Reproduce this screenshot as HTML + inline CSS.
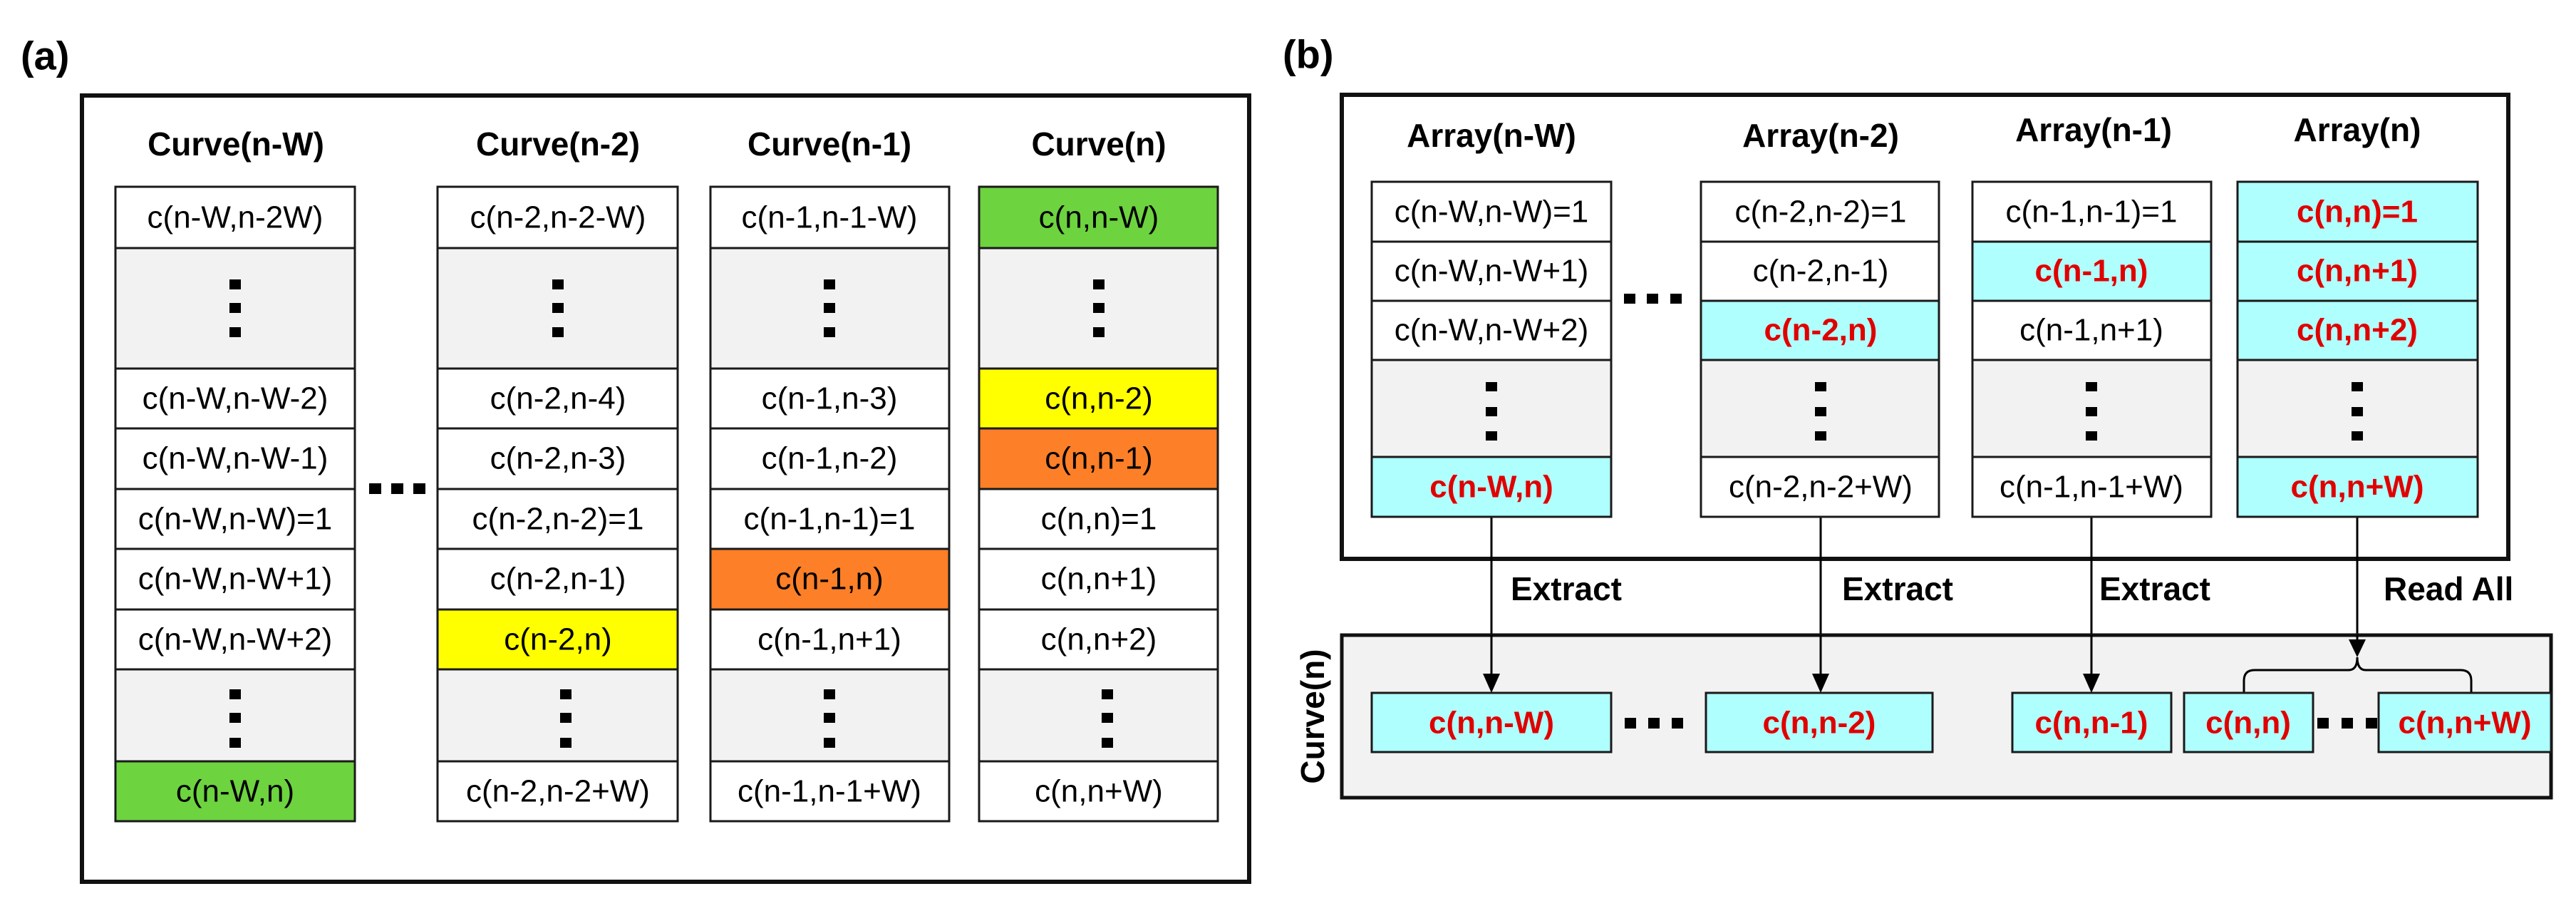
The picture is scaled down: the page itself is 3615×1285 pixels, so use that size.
<!DOCTYPE html>
<html><head><meta charset="utf-8"><style>
html,body{margin:0;padding:0;background:#fff;}
svg{display:block;}
text{font-family:"Liberation Sans",sans-serif;}
.c{font-size:44px;fill:#000;text-anchor:middle;dominant-baseline:central;}
.r{font-size:44px;fill:#e00000;font-weight:bold;text-anchor:middle;dominant-baseline:central;}
.h{font-size:46px;font-weight:bold;fill:#000;text-anchor:middle;dominant-baseline:central;}
.cell{stroke:#1a1a1a;stroke-width:3;}
</style></head><body>
<svg width="3615" height="1285" viewBox="0 0 3615 1285" xmlns="http://www.w3.org/2000/svg">
<defs>
<marker id="ah" viewBox="0 0 10 10" refX="10" refY="5" markerWidth="8" markerHeight="8" markerUnits="userSpaceOnUse" orient="auto">
</marker>
</defs>
<!-- (a) -->
<text x="29" y="78" style="font-size:56px;font-weight:bold;dominant-baseline:central">(a)</text>
<rect x="115" y="134" width="1638" height="1103" fill="none" stroke="#111" stroke-width="6"/>
<text class="h" x="331" y="202">Curve(n-W)</text>
<text class="h" x="783" y="202">Curve(n-2)</text>
<text class="h" x="1164" y="202">Curve(n-1)</text>
<text class="h" x="1542" y="202">Curve(n)</text>

<g id="acol">
</g>
<!-- col1 -->
<g>
<rect class="cell" x="162" y="262" width="336" height="86" fill="#fff"/>
<rect class="cell" x="162" y="348" width="336" height="169" fill="#f2f2f2"/>
<rect class="cell" x="162" y="517" width="336" height="84" fill="#fff"/>
<rect class="cell" x="162" y="601" width="336" height="85" fill="#fff"/>
<rect class="cell" x="162" y="686" width="336" height="84" fill="#fff"/>
<rect class="cell" x="162" y="770" width="336" height="85" fill="#fff"/>
<rect class="cell" x="162" y="855" width="336" height="84" fill="#fff"/>
<rect class="cell" x="162" y="939" width="336" height="129" fill="#f2f2f2"/>
<rect class="cell" x="162" y="1068" width="336" height="84" fill="#6dd33f"/>
<text class="c" x="330" y="305">c(n-W,n-2W)</text>
<rect x="322" y="392" width="16" height="14"/><rect x="322" y="425" width="16" height="14"/><rect x="322" y="459" width="16" height="14"/>
<text class="c" x="330" y="559">c(n-W,n-W-2)</text>
<text class="c" x="330" y="643">c(n-W,n-W-1)</text>
<text class="c" x="330" y="728">c(n-W,n-W)=1</text>
<text class="c" x="330" y="812">c(n-W,n-W+1)</text>
<text class="c" x="330" y="897">c(n-W,n-W+2)</text>
<rect x="322" y="967" width="16" height="14"/><rect x="322" y="1000" width="16" height="14"/><rect x="322" y="1035" width="16" height="14"/>
<text class="c" x="330" y="1110">c(n-W,n)</text>
</g>
<!-- ellipsis a -->
<rect x="518" y="678" width="17" height="15"/><rect x="549" y="678" width="17" height="15"/><rect x="580" y="678" width="17" height="15"/>
<!-- col2 -->
<g>
<rect class="cell" x="614" y="262" width="337" height="86" fill="#fff"/>
<rect class="cell" x="614" y="348" width="337" height="169" fill="#f2f2f2"/>
<rect class="cell" x="614" y="517" width="337" height="84" fill="#fff"/>
<rect class="cell" x="614" y="601" width="337" height="85" fill="#fff"/>
<rect class="cell" x="614" y="686" width="337" height="84" fill="#fff"/>
<rect class="cell" x="614" y="770" width="337" height="85" fill="#fff"/>
<rect class="cell" x="614" y="855" width="337" height="84" fill="#ffff00"/>
<rect class="cell" x="614" y="939" width="337" height="129" fill="#f2f2f2"/>
<rect class="cell" x="614" y="1068" width="337" height="84" fill="#fff"/>
<text class="c" x="783" y="305">c(n-2,n-2-W)</text>
<rect x="775" y="392" width="16" height="14"/><rect x="775" y="425" width="16" height="14"/><rect x="775" y="459" width="16" height="14"/>
<text class="c" x="783" y="559">c(n-2,n-4)</text>
<text class="c" x="783" y="643">c(n-2,n-3)</text>
<text class="c" x="783" y="728">c(n-2,n-2)=1</text>
<text class="c" x="783" y="812">c(n-2,n-1)</text>
<text class="c" x="783" y="897">c(n-2,n)</text>
<rect x="786" y="967" width="16" height="14"/><rect x="786" y="1000" width="16" height="14"/><rect x="786" y="1035" width="16" height="14"/>
<text class="c" x="783" y="1110">c(n-2,n-2+W)</text>
</g>
<!-- col3 -->
<g>
<rect class="cell" x="997" y="262" width="335" height="86" fill="#fff"/>
<rect class="cell" x="997" y="348" width="335" height="169" fill="#f2f2f2"/>
<rect class="cell" x="997" y="517" width="335" height="84" fill="#fff"/>
<rect class="cell" x="997" y="601" width="335" height="85" fill="#fff"/>
<rect class="cell" x="997" y="686" width="335" height="84" fill="#fff"/>
<rect class="cell" x="997" y="770" width="335" height="85" fill="#fd7f27"/>
<rect class="cell" x="997" y="855" width="335" height="84" fill="#fff"/>
<rect class="cell" x="997" y="939" width="335" height="129" fill="#f2f2f2"/>
<rect class="cell" x="997" y="1068" width="335" height="84" fill="#fff"/>
<text class="c" x="1164" y="305">c(n-1,n-1-W)</text>
<rect x="1156" y="392" width="16" height="14"/><rect x="1156" y="425" width="16" height="14"/><rect x="1156" y="459" width="16" height="14"/>
<text class="c" x="1164" y="559">c(n-1,n-3)</text>
<text class="c" x="1164" y="643">c(n-1,n-2)</text>
<text class="c" x="1164" y="728">c(n-1,n-1)=1</text>
<text class="c" x="1164" y="812">c(n-1,n)</text>
<text class="c" x="1164" y="897">c(n-1,n+1)</text>
<rect x="1156" y="967" width="16" height="14"/><rect x="1156" y="1000" width="16" height="14"/><rect x="1156" y="1035" width="16" height="14"/>
<text class="c" x="1164" y="1110">c(n-1,n-1+W)</text>
</g>
<!-- col4 -->
<g>
<rect class="cell" x="1374" y="262" width="335" height="86" fill="#6dd33f"/>
<rect class="cell" x="1374" y="348" width="335" height="169" fill="#f2f2f2"/>
<rect class="cell" x="1374" y="517" width="335" height="84" fill="#ffff00"/>
<rect class="cell" x="1374" y="601" width="335" height="85" fill="#fd7f27"/>
<rect class="cell" x="1374" y="686" width="335" height="84" fill="#fff"/>
<rect class="cell" x="1374" y="770" width="335" height="85" fill="#fff"/>
<rect class="cell" x="1374" y="855" width="335" height="84" fill="#fff"/>
<rect class="cell" x="1374" y="939" width="335" height="129" fill="#f2f2f2"/>
<rect class="cell" x="1374" y="1068" width="335" height="84" fill="#fff"/>
<text class="c" x="1542" y="305">c(n,n-W)</text>
<rect x="1534" y="392" width="16" height="14"/><rect x="1534" y="425" width="16" height="14"/><rect x="1534" y="459" width="16" height="14"/>
<text class="c" x="1542" y="559">c(n,n-2)</text>
<text class="c" x="1542" y="643">c(n,n-1)</text>
<text class="c" x="1542" y="728">c(n,n)=1</text>
<text class="c" x="1542" y="812">c(n,n+1)</text>
<text class="c" x="1542" y="897">c(n,n+2)</text>
<rect x="1546" y="967" width="16" height="14"/><rect x="1546" y="1000" width="16" height="14"/><rect x="1546" y="1035" width="16" height="14"/>
<text class="c" x="1542" y="1110">c(n,n+W)</text>
</g>

<!-- (b) -->
<text x="1800" y="76" style="font-size:56px;font-weight:bold;dominant-baseline:central">(b)</text>
<rect x="1883" y="133" width="1637" height="651" fill="none" stroke="#111" stroke-width="6"/>
<text class="h" x="2093" y="190">Array(n-W)</text>
<text class="h" x="2555" y="190">Array(n-2)</text>
<text class="h" x="2938" y="182">Array(n-1)</text>
<text class="h" x="3308" y="182">Array(n)</text>

<!-- arrows -->
<g stroke="#000" stroke-width="3">
<line x1="2093" y1="725" x2="2093" y2="950"/>
<line x1="2555" y1="725" x2="2555" y2="950"/>
<line x1="2935" y1="725" x2="2935" y2="950"/>
<line x1="3308" y1="725" x2="3308" y2="900"/>
</g>

<!-- lower gray box -->
<rect x="1883" y="891" width="1697" height="228" fill="#f2f2f2" stroke="#111" stroke-width="5"/>
<g stroke="#000" stroke-width="3">
<line x1="2093" y1="891" x2="2093" y2="950"/>
<line x1="2555" y1="891" x2="2555" y2="950"/>
<line x1="2935" y1="891" x2="2935" y2="950"/>
<line x1="3308" y1="891" x2="3308" y2="900"/>
</g>
<g fill="#000">
<polygon points="2081,945 2105,945 2093,972"/>
<polygon points="2543,945 2567,945 2555,972"/>
<polygon points="2923,945 2947,945 2935,972"/>
<polygon points="3296,897 3320,897 3308,922"/>
</g>
<path d="M3149,972 V955 Q3149,940 3164,940 H3296 Q3308,940 3308,922 Q3308,940 3320,940 H3453 Q3468,940 3468,955 V972" fill="none" stroke="#000" stroke-width="3"/>

<text x="2120" y="826" style="font-size:46px;font-weight:bold;dominant-baseline:central">Extract</text>
<text x="2585" y="826" style="font-size:46px;font-weight:bold;dominant-baseline:central">Extract</text>
<text x="2946" y="826" style="font-size:46px;font-weight:bold;dominant-baseline:central">Extract</text>
<text x="3345" y="826" style="font-size:46px;font-weight:bold;dominant-baseline:central">Read All</text>
<text transform="translate(1842,1005) rotate(-90)" style="font-size:46px;font-weight:bold;text-anchor:middle;dominant-baseline:central">Curve(n)</text>

<!-- b col1 -->
<g>
<rect class="cell" x="1925" y="255" width="336" height="84" fill="#fff"/>
<rect class="cell" x="1925" y="339" width="336" height="83" fill="#fff"/>
<rect class="cell" x="1925" y="422" width="336" height="83" fill="#fff"/>
<rect class="cell" x="1925" y="505" width="336" height="136" fill="#f2f2f2"/>
<rect class="cell" x="1925" y="641" width="336" height="84" fill="#b0ffff"/>
<text class="c" x="2093" y="297">c(n-W,n-W)=1</text>
<text class="c" x="2093" y="380">c(n-W,n-W+1)</text>
<text class="c" x="2093" y="463">c(n-W,n-W+2)</text>
<rect x="2085" y="536" width="16" height="13"/><rect x="2085" y="571" width="16" height="13"/><rect x="2085" y="605" width="16" height="13"/>
<text class="r" x="2093" y="683">c(n-W,n)</text>
</g>
<rect x="2279" y="412" width="16" height="14"/><rect x="2311" y="412" width="16" height="14"/><rect x="2344" y="412" width="16" height="14"/>
<!-- b col2 -->
<g>
<rect class="cell" x="2387" y="255" width="334" height="84" fill="#fff"/>
<rect class="cell" x="2387" y="339" width="334" height="83" fill="#fff"/>
<rect class="cell" x="2387" y="422" width="334" height="83" fill="#b0ffff"/>
<rect class="cell" x="2387" y="505" width="334" height="136" fill="#f2f2f2"/>
<rect class="cell" x="2387" y="641" width="334" height="84" fill="#fff"/>
<text class="c" x="2555" y="297">c(n-2,n-2)=1</text>
<text class="c" x="2555" y="380">c(n-2,n-1)</text>
<text class="r" x="2555" y="463">c(n-2,n)</text>
<rect x="2547" y="536" width="16" height="13"/><rect x="2547" y="571" width="16" height="13"/><rect x="2547" y="605" width="16" height="13"/>
<text class="c" x="2555" y="683">c(n-2,n-2+W)</text>
</g>
<!-- b col3 -->
<g>
<rect class="cell" x="2768" y="255" width="335" height="84" fill="#fff"/>
<rect class="cell" x="2768" y="339" width="335" height="83" fill="#b0ffff"/>
<rect class="cell" x="2768" y="422" width="335" height="83" fill="#fff"/>
<rect class="cell" x="2768" y="505" width="335" height="136" fill="#f2f2f2"/>
<rect class="cell" x="2768" y="641" width="335" height="84" fill="#fff"/>
<text class="c" x="2935" y="297">c(n-1,n-1)=1</text>
<text class="r" x="2935" y="380">c(n-1,n)</text>
<text class="c" x="2935" y="463">c(n-1,n+1)</text>
<rect x="2927" y="536" width="16" height="13"/><rect x="2927" y="571" width="16" height="13"/><rect x="2927" y="605" width="16" height="13"/>
<text class="c" x="2935" y="683">c(n-1,n-1+W)</text>
</g>
<!-- b col4 -->
<g>
<rect class="cell" x="3140" y="255" width="337" height="84" fill="#b0ffff"/>
<rect class="cell" x="3140" y="339" width="337" height="83" fill="#b0ffff"/>
<rect class="cell" x="3140" y="422" width="337" height="83" fill="#b0ffff"/>
<rect class="cell" x="3140" y="505" width="337" height="136" fill="#f2f2f2"/>
<rect class="cell" x="3140" y="641" width="337" height="84" fill="#b0ffff"/>
<text class="r" x="3308" y="297">c(n,n)=1</text>
<text class="r" x="3308" y="380">c(n,n+1)</text>
<text class="r" x="3308" y="463">c(n,n+2)</text>
<rect x="3300" y="536" width="16" height="13"/><rect x="3300" y="571" width="16" height="13"/><rect x="3300" y="605" width="16" height="13"/>
<text class="r" x="3308" y="683">c(n,n+W)</text>
</g>

<!-- lower cells -->
<g>
<rect class="cell" x="1925" y="972" width="336" height="83" fill="#b0ffff"/>
<rect class="cell" x="2394" y="972" width="318" height="83" fill="#b0ffff"/>
<rect class="cell" x="2824" y="972" width="223" height="83" fill="#b0ffff"/>
<rect class="cell" x="3065" y="972" width="181" height="83" fill="#b0ffff"/>
<rect class="cell" x="3338" y="972" width="242" height="83" fill="#b0ffff"/>
<text class="r" x="2093" y="1014">c(n,n-W)</text>
<text class="r" x="2553" y="1014">c(n,n-2)</text>
<text class="r" x="2935" y="1014">c(n,n-1)</text>
<text class="r" x="3155" y="1014">c(n,n)</text>
<text class="r" x="3459" y="1014">c(n,n+W)</text>
</g>
<rect x="2280" y="1007" width="16" height="15"/><rect x="2313" y="1007" width="16" height="15"/><rect x="2346" y="1007" width="16" height="15"/>
<rect x="3252" y="1007" width="16" height="15"/><rect x="3286" y="1007" width="16" height="15"/><rect x="3320" y="1007" width="16" height="15"/>
</svg>
</body></html>
